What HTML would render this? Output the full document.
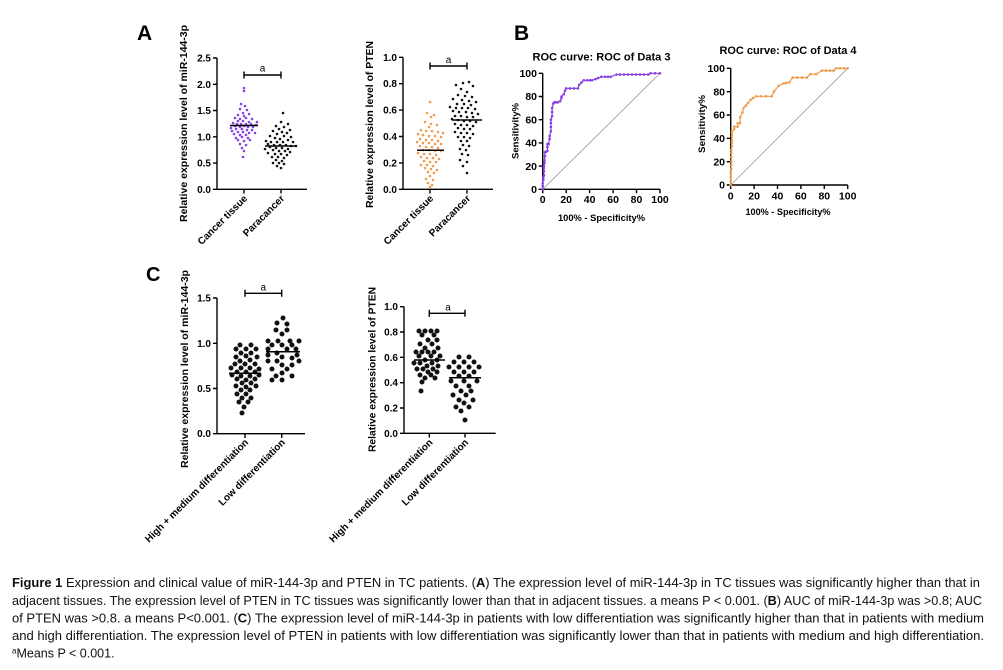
<!DOCTYPE html>
<html><head><meta charset="utf-8"><style>
html,body{margin:0;padding:0;background:#fff;}
svg{display:block;}
text{font-family:"Liberation Sans",Arial,sans-serif;}
.b{font-weight:bold;}
.tk{font-size:10px;font-weight:bold;text-anchor:end;}
.tx{font-size:10px;font-weight:bold;text-anchor:middle;}
.ax{stroke:#000;stroke-width:1.4;fill:none;}
.cap{font-size:12.5px;fill:#111;}
</style></head><body>
<svg width="1003" height="670" viewBox="0 0 1003 670" xmlns="http://www.w3.org/2000/svg">
<rect width="1003" height="670" fill="#fff"/>

<!-- Panel letters -->
<text x="137" y="40" class="b" font-size="21">A</text>
<text x="514" y="40" class="b" font-size="21">B</text>
<text x="146" y="281" class="b" font-size="20">C</text>

<!-- ===== A left ===== -->
<path class="ax" d="M217 58V189.3H307M213 58H217M213 84.3H217M213 110.5H217M213 136.8H217M213 163.1H217M213 189.3H217M244 189.3V193.5M281 189.3V193.5"/>
<g class="tk"><text x="211" y="61.5">2.5</text><text x="211" y="87.8">2.0</text><text x="211" y="114">1.5</text><text x="211" y="140.3">1.0</text><text x="211" y="166.6">0.5</text><text x="211" y="192.8">0.0</text></g>
<text transform="translate(187,123.5) rotate(-90)" class="b" font-size="10.5" text-anchor="middle" textLength="197" lengthAdjust="spacingAndGlyphs">Relative expression level of miR-144-3p</text>
<text transform="translate(248,199) rotate(-45)" class="b" font-size="10" text-anchor="end">Cancer tissue</text>
<text transform="translate(285,199) rotate(-45)" class="b" font-size="10" text-anchor="end">Paracancer</text>
<path class="ax" stroke-width="1.6" d="M244 75H281M244 71.5V78.5M281 71.5V78.5"/>
<text x="262.5" y="71.5" font-size="10" text-anchor="middle">a</text>
<path stroke="#8a3ee6" stroke-width="2.6" stroke-linecap="round" fill="none" d="M244 88h0M244 91h0M241 104h0M245 106h0M240 109h0M247 110h0M243 113h0M238 115h0M249 114h0M244 116h0M235 118h0M240 119h0M246 118h0M252 119h0M238 121h0M243 121h0M249 122h0M257 122h0M233 123h0M237 124h0M241 124h0M246 124h0M251 124h0M256 125h0M235 126h0M240 127h0M244 126h0M248 127h0M253 127h0M231 128h0M236 129h0M242 129h0M247 130h0M252 130h0M232 131h0M238 132h0M243 132h0M249 133h0M255 133h0M234 134h0M240 135h0M246 135h0M236 138h0M242 137h0M248 138h0M238 140h0M244 141h0M250 140h0M240 144h0M246 145h0M242 148h0M244 151h0M243 157h0"/>
<path stroke="#000" stroke-width="1.5" d="M230 125.5H258"/>
<path stroke="#111" stroke-width="2.6" stroke-linecap="round" fill="none" d="M283 113h0M281 122h0M288 124h0M276 126h0M284 127h0M279 129h0M290 130h0M273 131h0M282 132h0M287 133h0M277 134h0M270 136h0M284 136h0M291 137h0M275 138h0M280 139h0M288 140h0M266 141h0M271 142h0M277 142h0M283 142h0M293 142h0M268 144h0M274 145h0M280 145h0M286 145h0M291 146h0M296 146h0M270 147h0M276 148h0M282 148h0M288 149h0M265 149h0M273 150h0M279 151h0M285 151h0M290 152h0M268 153h0M275 154h0M281 154h0M287 155h0M272 157h0M278 157h0M284 158h0M276 160h0M282 161h0M273 163h0M279 163h0M284 164h0M277 166h0M281 168h0"/>
<path stroke="#000" stroke-width="1.5" d="M265 146H296"/>

<!-- ===== A right ===== -->
<path class="ax" d="M403 57.3V189.3H493M399 57.3H403M399 83.7H403M399 110.1H403M399 136.5H403M399 162.9H403M399 189.3H403M430 189.3V193.5M467 189.3V193.5"/>
<g class="tk"><text x="397" y="60.8">1.0</text><text x="397" y="87.2">0.8</text><text x="397" y="113.6">0.6</text><text x="397" y="140">0.4</text><text x="397" y="166.4">0.2</text><text x="397" y="192.8">0.0</text></g>
<text transform="translate(373,124.5) rotate(-90)" class="b" font-size="10.5" text-anchor="middle" textLength="167" lengthAdjust="spacingAndGlyphs">Relative expression level of PTEN</text>
<text transform="translate(434,199) rotate(-45)" class="b" font-size="10" text-anchor="end">Cancer tissue</text>
<text transform="translate(471,199) rotate(-45)" class="b" font-size="10" text-anchor="end">Paracancer</text>
<path class="ax" stroke-width="1.6" d="M430 66H467M430 62.5V69.5M467 62.5V69.5"/>
<text x="448.5" y="63" font-size="10" text-anchor="middle">a</text>
<path stroke="#ef9b4c" stroke-width="2.6" stroke-linecap="round" fill="none" d="M430 102h0M427 113h0M434 115h0M431 117h0M425 122h0M431 124h0M437 125h0M429 127h0M421 130h0M426 131h0M432 131h0M438 132h0M443 133h0M418 134h0M423 135h0M429 136h0M435 136h0M441 137h0M420 139h0M426 140h0M432 140h0M438 141h0M417 142h0M423 143h0M429 143h0M435 144h0M441 144h0M420 146h0M426 147h0M432 147h0M438 148h0M423 150h0M429 150h0M435 151h0M441 151h0M418 153h0M424 154h0M430 154h0M436 155h0M421 157h0M427 158h0M433 158h0M439 159h0M424 161h0M430 162h0M436 162h0M421 165h0M427 165h0M433 166h0M425 168h0M431 169h0M437 170h0M428 172h0M434 173h0M430 176h0M426 179h0M433 180h0M428 183h0M432 185h0M430 187h0"/>
<path stroke="#000" stroke-width="1.5" d="M417 150.3H444"/>
<path stroke="#111" stroke-width="2.6" stroke-linecap="round" fill="none" d="M463 83h0M469 82h0M456 85h0M473 86h0M461 89h0M467 92h0M458 95h0M465 96h0M472 97h0M453 99h0M462 100h0M469 101h0M476 102h0M457 104h0M464 104h0M471 105h0M450 107h0M456 108h0M462 108h0M468 108h0M475 109h0M453 111h0M459 112h0M466 112h0M472 113h0M478 114h0M455 116h0M461 116h0M467 117h0M473 117h0M452 119h0M458 120h0M464 121h0M470 121h0M476 122h0M455 124h0M461 125h0M467 125h0M473 126h0M458 128h0M464 129h0M470 129h0M455 132h0M461 133h0M467 133h0M473 134h0M458 137h0M464 137h0M470 138h0M461 141h0M467 141h0M463 145h0M469 146h0M460 149h0M466 150h0M462 154h0M468 155h0M460 160h0M467 162h0M463 166h0M467 173h0"/>
<path stroke="#000" stroke-width="1.5" d="M452 120H482"/>

<!-- ===== B left ROC ===== -->
<text x="601.5" y="60.5" class="b" font-size="11" text-anchor="middle" textLength="138" lengthAdjust="spacingAndGlyphs">ROC curve: ROC of Data 3</text>
<path class="ax" d="M542.7 73.3V189.3H660M538.7 73.3H542.7M538.7 96.5H542.7M538.7 119.7H542.7M538.7 142.9H542.7M538.7 166.1H542.7M538.7 189.3H542.7M542.7 189.3V193.3M566.2 189.3V193.3M589.6 189.3V193.3M613.1 189.3V193.3M636.5 189.3V193.3M660 189.3V193.3"/>
<g class="tk" style="font-size:10.5px"><text x="537" y="77">100</text><text x="537" y="100.2">80</text><text x="537" y="123.4">60</text><text x="537" y="146.6">40</text><text x="537" y="169.8">20</text><text x="537" y="193">0</text></g>
<g class="tx" style="font-size:10.5px"><text x="542.7" y="203">0</text><text x="566.2" y="203">20</text><text x="589.6" y="203">40</text><text x="613.1" y="203">60</text><text x="636.5" y="203">80</text><text x="660" y="203">100</text></g>
<text x="601.5" y="221" class="b" font-size="9.5" text-anchor="middle" textLength="87" lengthAdjust="spacingAndGlyphs">100% - Specificity%</text>
<text transform="translate(518.5,131) rotate(-90)" class="b" font-size="9.5" text-anchor="middle" textLength="56" lengthAdjust="spacingAndGlyphs">Sensitivity%</text>
<path stroke="#999" stroke-width="0.8" d="M542.7 189.3L660 73.3"/>
<polyline fill="none" stroke="#8a3ee6" stroke-width="1.2" points="542.7,189.3 542.7,183.5 543.3,177.7 543.9,175.4 543.9,166.1 544.5,160.3 545,152.2 547.4,151 547.4,144.1 548.6,144.1 549.7,135.9 550.9,131.3 550.9,119.7 552.1,116.2 552.1,108.1 553.3,103.5 554.4,102.3 557.9,102.3 560.3,101.1 561.5,96.5 563.8,94.2 565,90.7 566.2,88.4 577.9,88.4 579.1,84.9 581.4,82.6 583.8,80.3 592,80.3 595.5,79.1 601.4,76.8 610.7,76.8 616.6,74.5 648.3,74.5 650.6,73.3 660,73.3"/>
<path stroke="#8a3ee6" stroke-width="2.6" stroke-linecap="round" fill="none" d="M542.7 189.3h0M542.7 186h0M542.7 183.5h0M543.3 180h0M543.3 177.7h0M543.9 175.4h0M543.9 171h0M543.9 168h0M543.9 166.1h0M544.5 163h0M544.5 160.3h0M545 156h0M545 152.2h0M546.2 151.6h0M547.4 151h0M547.4 147h0M547.4 144.1h0M548.6 144.1h0M549.7 139h0M549.7 135.9h0M550.9 131.3h0M550.9 127h0M550.9 123h0M550.9 119.7h0M552.1 116.2h0M552.1 112h0M552.1 108.1h0M553.3 103.5h0M554.4 102.3h0M556 102.3h0M557.9 102.3h0M560.3 101.1h0M561.5 98h0M561.5 96.5h0M563.8 94.2h0M565 90.7h0M566.2 88.4h0M570 88.4h0M574 88.4h0M577.9 88.4h0M579.1 84.9h0M581.4 82.6h0M583.8 80.3h0M587 80.3h0M590 80.3h0M592 80.3h0M595.5 79.1h0M598 78h0M601.4 76.8h0M605 76.8h0M608 76.8h0M610.7 76.8h0M616.6 74.5h0M620 74.5h0M624 74.5h0M628 74.5h0M632 74.5h0M636 74.5h0M640 74.5h0M644 74.5h0M648.3 74.5h0M650.6 73.3h0M655 73.3h0M660 73.3h0"/>

<!-- ===== B right ROC ===== -->
<text x="788" y="54" class="b" font-size="11" text-anchor="middle" textLength="137" lengthAdjust="spacingAndGlyphs">ROC curve: ROC of Data 4</text>
<path class="ax" d="M730.7 68.3V185H847.7M726.7 68.3H730.7M726.7 91.7H730.7M726.7 115H730.7M726.7 138.3H730.7M726.7 161.7H730.7M726.7 185H730.7M730.7 185V189M754.1 185V189M777.5 185V189M800.9 185V189M824.3 185V189M847.7 185V189"/>
<g class="tk" style="font-size:10.5px"><text x="725" y="72">100</text><text x="725" y="95.4">80</text><text x="725" y="118.7">60</text><text x="725" y="142">40</text><text x="725" y="165.4">20</text><text x="725" y="188.7">0</text></g>
<g class="tx" style="font-size:10.5px"><text x="730.7" y="199.5">0</text><text x="754.1" y="199.5">20</text><text x="777.5" y="199.5">40</text><text x="800.9" y="199.5">60</text><text x="824.3" y="199.5">80</text><text x="847.7" y="199.5">100</text></g>
<text x="788" y="215" class="b" font-size="9.5" text-anchor="middle" textLength="85" lengthAdjust="spacingAndGlyphs">100% - Specificity%</text>
<text transform="translate(705,124) rotate(-90)" class="b" font-size="9.5" text-anchor="middle" textLength="58" lengthAdjust="spacingAndGlyphs">Sensitivity%</text>
<path stroke="#999" stroke-width="0.8" d="M730.7 185L847.7 68.3"/>
<polyline fill="none" stroke="#ef9b4c" stroke-width="1.2" points="730.7,185 730.7,173.3 731.3,161.7 731.3,150 731.9,140.7 731.9,131.3 734.2,129 734.2,126.7 737.7,126.7 737.7,123.2 740.1,123.2 740.1,117.3 742.4,112.6 743.6,108 745.9,105.6 750.6,99.8 756.4,96.3 771.7,96.3 774,91.6 778.7,85.8 783.4,83.5 789.2,82.3 792.7,77.6 806.8,77.6 810.3,74.1 816.1,74.1 821.9,70.6 833.7,70.6 836,68.3 847.7,68.3"/>
<path stroke="#ef9b4c" stroke-width="2.6" stroke-linecap="round" fill="none" d="M730.7 185h0M730.7 181h0M730.7 177h0M730.7 173.3h0M731.3 169h0M731.3 165h0M731.3 161.7h0M731.3 157h0M731.3 153h0M731.3 150h0M731.9 146h0M731.9 143h0M731.9 140.7h0M731.9 136h0M731.9 133h0M731.9 131.3h0M734.2 129h0M734.2 126.7h0M737.7 126.7h0M737.7 123.2h0M740.1 123.2h0M740.1 117.3h0M742.4 112.6h0M743.6 108h0M745.9 105.6h0M748 103h0M750.6 99.8h0M753 98h0M756.4 96.3h0M761 96.3h0M766 96.3h0M771.7 96.3h0M774 91.6h0M778.7 85.8h0M783.4 83.5h0M786 83h0M789.2 82.3h0M792.7 77.6h0M797 77.6h0M802 77.6h0M806.8 77.6h0M810.3 74.1h0M816.1 74.1h0M821.9 70.6h0M826 70.6h0M830 70.6h0M833.7 70.6h0M836 68.3h0M840 68.3h0M844 68.3h0M847.7 68.3h0"/>

<!-- ===== C left ===== -->
<path class="ax" d="M217 298V433.7H305M213 298H217M213 343.3H217M213 388.5H217M213 433.7H217M245 433.7V438M281.7 433.7V438"/>
<g class="tk"><text x="211" y="301.5">1.5</text><text x="211" y="346.8">1.0</text><text x="211" y="392">0.5</text><text x="211" y="437.2">0.0</text></g>
<text transform="translate(188,369) rotate(-90)" class="b" font-size="10.5" text-anchor="middle" textLength="198" lengthAdjust="spacingAndGlyphs">Relative expression level of miR-144-3p</text>
<text transform="translate(249,443) rotate(-45)" class="b" font-size="10" text-anchor="end">High + medium differentiation</text>
<text transform="translate(285.7,443) rotate(-45)" class="b" font-size="10" text-anchor="end">Low differentiation</text>
<path class="ax" stroke-width="1.6" d="M245 293.3H281.7M245 289.8V296.8M281.7 289.8V296.8"/>
<text x="263.3" y="290.5" font-size="10" text-anchor="middle">a</text>
<path stroke="#111" stroke-width="5" stroke-linecap="round" fill="none" d="M240 345h0M251 345h0M236 349h0M246 349h0M256 349h0M241 353h0M251 353h0M236 357h0M246 356h0M257 357h0M240 361h0M250 360h0M235 364h0M245 364h0M255 364h0M231 368h0M241 368h0M250 368h0M259 369h0M237 372h0M246 372h0M255 372h0M232 375h0M241 376h0M250 376h0M259 375h0M237 379h0M246 380h0M255 379h0M242 383h0M251 383h0M236 386h0M246 387h0M256 386h0M241 390h0M250 390h0M237 394h0M246 394h0M242 398h0M251 398h0M239 402h0M248 402h0M244 407h0M242 413h0"/>
<path stroke="#000" stroke-width="1.5" d="M229 373.3H261"/>
<path stroke="#111" stroke-width="5" stroke-linecap="round" fill="none" d="M283 318h0M277 323h0M287 324h0M276 330h0M287 330h0M282 334h0M268 341h0M278 341h0M290 341h0M299 341h0M272 345h0M282 345h0M292 345h0M268 349h0M287 349h0M296 349h0M277 353h0M268 355h0M297 355h0M282 357h0M292 358h0M268 361h0M277 361h0M299 361h0M282 365h0M292 365h0M272 369h0M287 369h0M282 373h0M276 376h0M292 376h0M272 380h0M282 380h0"/>
<path stroke="#000" stroke-width="1.5" d="M266 351.7H300"/>

<!-- ===== C right ===== -->
<path class="ax" d="M404 306.7V433.3H495.7M400 306.7H404M400 332H404M400 357.3H404M400 382.7H404M400 408H404M400 433.3H404M429.3 433.3V437.5M465 433.3V437.5"/>
<g class="tk"><text x="398" y="310.2">1.0</text><text x="398" y="335.5">0.8</text><text x="398" y="360.8">0.6</text><text x="398" y="386.2">0.4</text><text x="398" y="411.5">0.2</text><text x="398" y="436.8">0.0</text></g>
<text transform="translate(375.5,369.5) rotate(-90)" class="b" font-size="10.5" text-anchor="middle" textLength="165" lengthAdjust="spacingAndGlyphs">Relative expression level of PTEN</text>
<text transform="translate(433.3,443) rotate(-45)" class="b" font-size="10" text-anchor="end">High + medium differentiation</text>
<text transform="translate(469,443) rotate(-45)" class="b" font-size="10" text-anchor="end">Low differentiation</text>
<path class="ax" stroke-width="1.6" d="M429.3 313.3H465M429.3 309.8V316.8M465 309.8V316.8"/>
<text x="448" y="310.5" font-size="10" text-anchor="middle">a</text>
<path stroke="#111" stroke-width="5" stroke-linecap="round" fill="none" d="M419 331h0M425 331h0M431 331h0M437 331h0M422 335h0M434 335h0M428 340h0M437 340h0M420 344h0M432 344h0M425 348h0M438 348h0M416 352h0M422 352h0M428 352h0M434 352h0M419 356h0M431 356h0M440 356h0M425 360h0M437 360h0M414 363h0M420 363h0M432 363h0M427 366h0M438 366h0M417 369h0M423 369h0M433 369h0M428 372h0M437 372h0M420 375h0M431 375h0M425 378h0M435 378h0M422 382h0M421 391h0"/>
<path stroke="#000" stroke-width="1.5" d="M414 360H445"/>
<path stroke="#111" stroke-width="5" stroke-linecap="round" fill="none" d="M459 357h0M469 357h0M454 362h0M464 362h0M474 362h0M449 367h0M459 367h0M469 367h0M479 367h0M454 372h0M464 372h0M474 372h0M459 376h0M469 376h0M451 381h0M464 381h0M477 381h0M456 386h0M469 386h0M461 391h0M471 391h0M453 395h0M466 395h0M459 400h0M473 400h0M464 403h0M456 407h0M469 407h0M461 411h0M465 420h0"/>
<path stroke="#000" stroke-width="1.5" d="M449 377.7H481"/>

<!-- ===== Caption ===== -->
<text class="cap" x="12" y="587" textLength="968" lengthAdjust="spacingAndGlyphs"><tspan font-weight="bold">Figure 1</tspan> Expression and clinical value of miR-144-3p and PTEN in TC patients. (<tspan font-weight="bold">A</tspan>) The expression level of miR-144-3p in TC tissues was significantly higher than that in</text>
<text class="cap" x="12" y="605" textLength="970" lengthAdjust="spacingAndGlyphs">adjacent tissues. The expression level of PTEN in TC tissues was significantly lower than that in adjacent tissues. a means P &lt; 0.001. (<tspan font-weight="bold">B</tspan>) AUC of miR-144-3p was &gt;0.8; AUC</text>
<text class="cap" x="12" y="622.5" textLength="972" lengthAdjust="spacingAndGlyphs">of PTEN was &gt;0.8. a means P&lt;0.001. (<tspan font-weight="bold">C</tspan>) The expression level of miR-144-3p in patients with low differentiation was significantly higher than that in patients with medium</text>
<text class="cap" x="12" y="640" textLength="972" lengthAdjust="spacingAndGlyphs">and high differentiation. The expression level of PTEN in patients with low differentiation was significantly lower than that in patients with medium and high differentiation.</text>
<text class="cap" x="12" y="657.5"><tspan font-size="8" dy="-4">a</tspan><tspan dy="4">Means P &lt; 0.001.</tspan></text>
</svg>
</body></html>
